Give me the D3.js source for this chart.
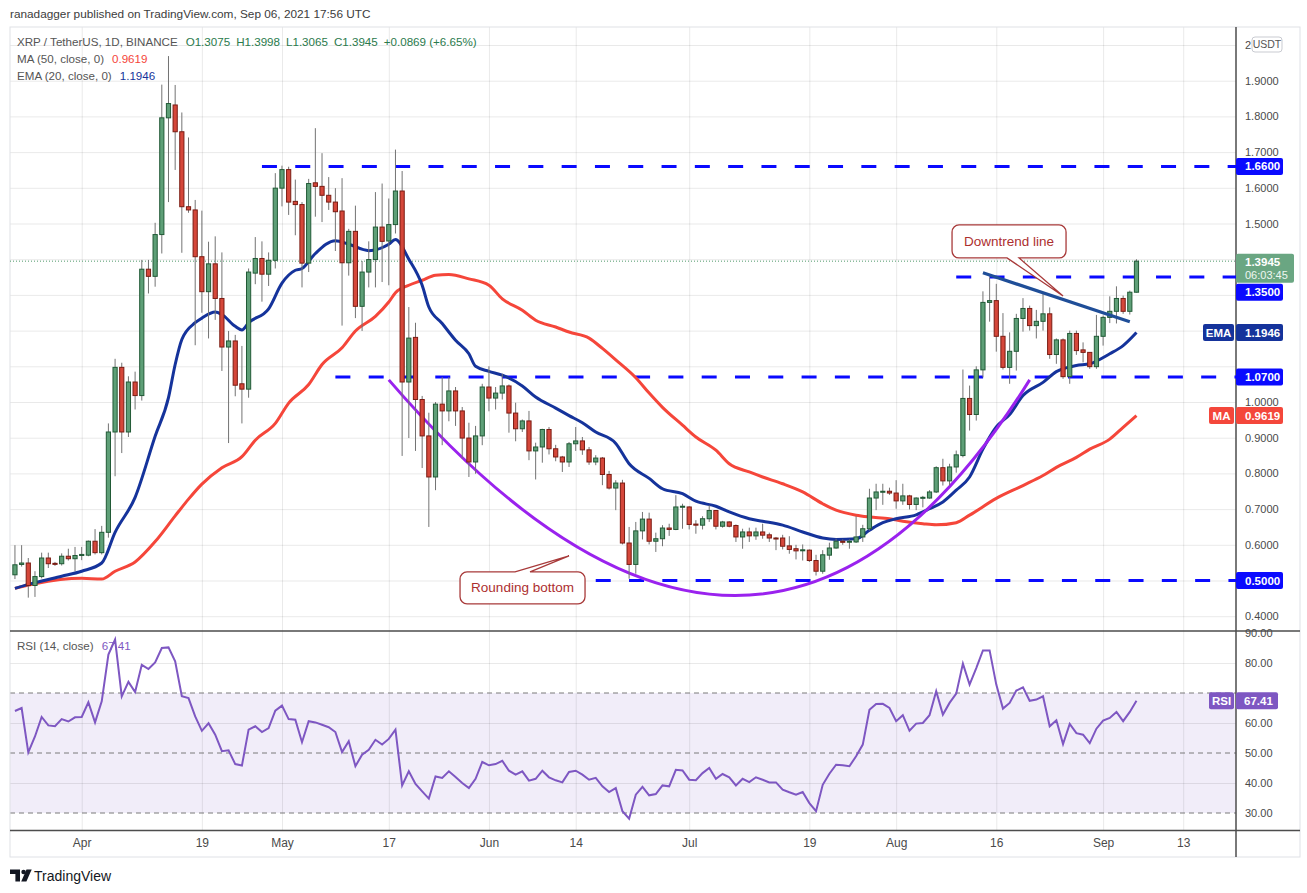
<!DOCTYPE html>
<html>
<head>
<meta charset="utf-8">
<script src="https://cdn.jsdelivr.net/npm/d3@7"></script>
<style>
  body { margin: 0; background: #fff; }
  svg { display: block; font-family: "Liberation Sans", Arial, sans-serif; }
</style>
</head>
<body>
<svg id="chart" width="1307" height="893"></svg>
<script>
// XRP/USDT daily, Mar 22 – Sep 6 2021.

const FIRST_DAY = "2021-03-22";

const opens = [
  0.516, 0.545, 0.549, 0.486, 0.511, 0.563, 0.548, 0.547, 0.568, 0.561,
  0.570, 0.571, 0.610, 0.578, 0.635, 0.916, 1.097, 0.916, 1.056, 1.018,
  1.372, 1.352, 1.469, 1.796, 1.832, 1.757, 1.547, 1.538, 1.407, 1.309,
  1.387, 1.290, 1.154, 1.171, 1.051, 1.036, 1.361, 1.402, 1.358, 1.397,
  1.599, 1.651, 1.562, 1.553, 1.389, 1.614, 1.604, 1.579, 1.560, 1.535,
  1.390, 1.478, 1.268, 1.364, 1.399, 1.490, 1.451, 1.497, 1.591, 1.056,
  1.181, 1.007, 0.905, 0.790, 0.994, 0.975, 1.031, 0.975, 0.899, 0.832,
  0.905, 1.042, 1.011, 1.025, 1.045, 0.969, 0.925, 0.947, 0.863, 0.874,
  0.923, 0.869, 0.846, 0.832, 0.883, 0.891, 0.866, 0.832, 0.843, 0.797,
  0.759, 0.773, 0.605, 0.545, 0.639, 0.672, 0.610, 0.617, 0.647, 0.643,
  0.706, 0.706, 0.658, 0.655, 0.673, 0.696, 0.652, 0.664, 0.654, 0.622,
  0.636, 0.625, 0.636, 0.628, 0.619, 0.619, 0.597, 0.589, 0.584, 0.585,
  0.556, 0.526, 0.571, 0.591, 0.610, 0.608, 0.608, 0.622, 0.645, 0.731,
  0.748, 0.750, 0.745, 0.723, 0.737, 0.713, 0.731, 0.731, 0.748, 0.816,
  0.779, 0.818, 0.850, 1.010, 0.965, 1.090, 1.279, 1.284, 1.184, 1.097,
  1.142, 1.234, 1.262, 1.214, 1.226, 1.247, 1.133, 1.174, 1.071, 1.192,
  1.146, 1.139, 1.099, 1.184, 1.237, 1.254, 1.290, 1.254, 1.3075,
];
const highs = [
  0.599, 0.599, 0.563, 0.526, 0.578, 0.578, 0.552, 0.576, 0.589, 0.594,
  0.594, 0.612, 0.644, 0.653, 0.940, 1.121, 1.110, 1.072, 1.085, 1.398,
  1.398, 1.502, 1.889, 1.969, 1.888, 1.811, 1.741, 1.566, 1.536, 1.449,
  1.464, 1.419, 1.199, 1.188, 1.157, 1.374, 1.462, 1.450, 1.419, 1.641,
  1.662, 1.659, 1.623, 1.560, 1.625, 1.767, 1.697, 1.630, 1.599, 1.627,
  1.485, 1.550, 1.395, 1.450, 1.588, 1.612, 1.570, 1.707, 1.647, 1.266,
  1.222, 1.017, 0.970, 1.000, 1.070, 1.070, 1.042, 0.986, 0.942, 0.933,
  1.051, 1.100, 1.042, 1.079, 1.049, 0.998, 0.951, 0.975, 0.886, 0.925,
  0.930, 0.880, 0.849, 0.888, 0.930, 0.902, 0.874, 0.851, 0.846, 0.807,
  0.781, 0.782, 0.650, 0.664, 0.692, 0.690, 0.634, 0.655, 0.659, 0.739,
  0.715, 0.708, 0.669, 0.680, 0.711, 0.697, 0.667, 0.666, 0.657, 0.645,
  0.648, 0.648, 0.659, 0.634, 0.622, 0.628, 0.624, 0.600, 0.601, 0.587,
  0.572, 0.585, 0.606, 0.617, 0.615, 0.615, 0.680, 0.656, 0.757, 0.771,
  0.771, 0.760, 0.781, 0.771, 0.740, 0.733, 0.737, 0.753, 0.820, 0.841,
  0.827, 0.864, 1.091, 1.046, 1.100, 1.310, 1.349, 1.331, 1.249, 1.195,
  1.247, 1.291, 1.270, 1.258, 1.303, 1.265, 1.178, 1.178, 1.200, 1.200,
  1.167, 1.139, 1.244, 1.242, 1.296, 1.324, 1.298, 1.312, 1.3998,
];
const lows = [
  0.504, 0.539, 0.452, 0.454, 0.506, 0.535, 0.541, 0.542, 0.556, 0.526,
  0.557, 0.568, 0.573, 0.573, 0.620, 0.792, 0.857, 0.902, 0.979, 1.004,
  1.304, 1.323, 1.416, 1.560, 1.650, 1.418, 1.530, 1.159, 1.250, 1.178,
  1.230, 1.087, 0.885, 1.016, 0.940, 1.012, 1.330, 1.281, 1.325, 1.374,
  1.548, 1.524, 1.467, 1.321, 1.364, 1.519, 1.504, 1.538, 1.423, 1.214,
  1.354, 1.235, 1.199, 1.321, 1.321, 1.336, 1.327, 1.472, 0.849, 0.899,
  0.863, 0.815, 0.650, 0.753, 0.879, 0.946, 0.933, 0.841, 0.790, 0.799,
  0.879, 0.974, 0.979, 1.007, 0.914, 0.890, 0.916, 0.837, 0.783, 0.830,
  0.853, 0.834, 0.804, 0.818, 0.863, 0.852, 0.824, 0.823, 0.767, 0.755,
  0.697, 0.601, 0.505, 0.519, 0.615, 0.601, 0.580, 0.596, 0.625, 0.641,
  0.645, 0.643, 0.631, 0.643, 0.664, 0.643, 0.648, 0.649, 0.608, 0.589,
  0.608, 0.614, 0.617, 0.608, 0.585, 0.587, 0.575, 0.559, 0.556, 0.552,
  0.514, 0.519, 0.558, 0.589, 0.600, 0.589, 0.605, 0.608, 0.640, 0.697,
  0.712, 0.740, 0.701, 0.712, 0.699, 0.697, 0.705, 0.729, 0.745, 0.766,
  0.766, 0.802, 0.845, 0.920, 0.948, 1.069, 1.225, 1.141, 1.091, 1.051,
  1.088, 1.197, 1.200, 1.178, 1.200, 1.121, 1.107, 1.065, 1.051, 1.132,
  1.111, 1.093, 1.093, 1.158, 1.221, 1.220, 1.247, 1.245, 1.3065,
];
const closes = [
  0.544, 0.549, 0.486, 0.511, 0.563, 0.547, 0.546, 0.568, 0.561, 0.570,
  0.573, 0.610, 0.578, 0.635, 0.916, 1.097, 0.916, 1.056, 1.018, 1.372,
  1.352, 1.469, 1.796, 1.836, 1.757, 1.547, 1.538, 1.407, 1.309, 1.387,
  1.290, 1.154, 1.171, 1.047, 1.036, 1.364, 1.402, 1.358, 1.397, 1.599,
  1.651, 1.560, 1.553, 1.389, 1.612, 1.604, 1.579, 1.560, 1.533, 1.390,
  1.478, 1.268, 1.364, 1.399, 1.490, 1.450, 1.497, 1.591, 1.056, 1.179,
  1.007, 0.905, 0.790, 0.994, 0.975, 1.031, 0.975, 0.899, 0.832, 0.905,
  1.042, 1.011, 1.025, 1.045, 0.969, 0.925, 0.947, 0.863, 0.874, 0.923,
  0.869, 0.846, 0.832, 0.883, 0.891, 0.866, 0.832, 0.843, 0.797, 0.759,
  0.773, 0.605, 0.545, 0.639, 0.672, 0.610, 0.617, 0.647, 0.643, 0.706,
  0.708, 0.657, 0.655, 0.673, 0.696, 0.652, 0.664, 0.652, 0.622, 0.636,
  0.625, 0.636, 0.627, 0.619, 0.618, 0.596, 0.587, 0.583, 0.586, 0.556,
  0.526, 0.572, 0.591, 0.610, 0.607, 0.610, 0.622, 0.645, 0.731, 0.748,
  0.750, 0.745, 0.723, 0.737, 0.713, 0.731, 0.733, 0.748, 0.816, 0.779,
  0.818, 0.852, 1.010, 0.965, 1.090, 1.279, 1.284, 1.184, 1.097, 1.142,
  1.234, 1.262, 1.214, 1.226, 1.247, 1.133, 1.174, 1.071, 1.192, 1.144,
  1.139, 1.099, 1.184, 1.237, 1.254, 1.290, 1.254, 1.3075, 1.3945,
];

// RSI(14), one reading per candle
const rsiValues = [
  64, 65, 50.2, 55.5, 62, 59.2, 58.9, 61.3, 60.5, 61.9,
  62, 66.9, 60.2, 67.2, 82.8, 87.8, 68.9, 73.7, 70.3, 79.4,
  78, 80.2, 85, 85.2, 80.6, 68.9, 68.3, 62.2, 57.4, 59.9,
  56.1, 50.6, 50.9, 46.3, 45.8, 57.8, 58.9, 57, 58.3, 64.1,
  65.8, 61.3, 61.1, 53.6, 60.6, 60.2, 59.4, 58.6, 57, 50.3,
  53.9, 45.6, 49.4, 51.1, 54.4, 52.8, 54.7, 57.8, 39.2, 43.9,
  39.7, 37.2, 34.8, 42.2, 41.7, 43.9, 42, 40, 38.3, 41.4,
  47, 45.9, 46.3, 47.4, 44.1, 42.8, 43.9, 40.8, 41.4, 44.1,
  41.9, 40.9, 40.2, 43.7, 44.1, 42.8, 41.1, 41.7, 38.9, 37,
  38.3, 30.6, 28.1, 36.1, 38.7, 35.9, 36.3, 39.2, 38.9, 44.4,
  44.2, 41.1, 40.9, 43.3, 45, 41.4, 43, 41.9, 39.2, 41.4,
  40.3, 41.9, 41.1, 40.2, 40.2, 37.8, 36.9, 36.1, 37, 33.3,
  30.6, 39.4, 43.1, 46.1, 45.9, 45.6, 48.9, 52.8, 64.4, 66.3,
  66.4, 65, 60.6, 62.6, 57.4, 59.8, 60, 62.6, 70.6, 62.8,
  66.7, 69.8, 79.8, 72.8, 78.3, 84.2, 84.2, 72.8, 64.8, 66.7,
  70.8, 71.9, 67.4, 67.8, 68.9, 58.9, 60.9, 53, 59.7, 56.6,
  56.1, 53.3, 58.1, 60.8, 61.7, 63.7, 60.6, 63.7, 67.41,
];

// EMA(20) and MA(50) read at sample candles (1 = first candle)
const emaCandles = [
  1, 4, 8, 11, 14, 16, 19, 22, 24, 25, 26, 28, 29, 31, 32, 34, 35, 36, 39, 41,
  43, 44, 46, 49, 51, 54, 57, 58, 60, 62, 63, 65, 67, 69, 70, 72, 74, 77, 79, 82,
  84, 86, 88, 91, 93, 96, 98, 101, 103, 106, 108, 111, 113, 116, 119, 122, 124, 127, 129, 131,
  133, 136, 138, 140, 142, 144, 146, 148, 150, 152, 155, 157, 160, 162, 165, 167, 169,
];
const emaValues = [
  0.478, 0.494, 0.512, 0.526, 0.549, 0.635, 0.733, 0.904, 1.012, 1.105, 1.175, 1.222, 1.235, 1.252, 1.245, 1.212, 1.202, 1.222, 1.261, 1.333,
  1.369, 1.374, 1.416, 1.452, 1.442, 1.424, 1.442, 1.455, 1.400, 1.327, 1.266, 1.220, 1.173, 1.135, 1.100, 1.086, 1.075, 1.045, 1.014, 0.983,
  0.962, 0.942, 0.916, 0.884, 0.827, 0.786, 0.757, 0.743, 0.722, 0.708, 0.692, 0.673, 0.666, 0.655, 0.636, 0.619, 0.615, 0.617, 0.641, 0.662,
  0.673, 0.684, 0.701, 0.720, 0.753, 0.790, 0.868, 0.930, 0.965, 1.018, 1.055, 1.085, 1.102, 1.107, 1.135, 1.158, 1.1946,
];
const maCandles = [
  1, 4, 11, 14, 16, 19, 22, 25, 27, 29, 32, 35, 37, 40, 42, 45, 47, 50, 52, 55,
  57, 58, 60, 62, 64, 66, 69, 72, 74, 77, 79, 82, 84, 87, 89, 91, 94, 96, 98, 101,
  103, 106, 108, 111, 113, 116, 119, 122, 124, 127, 129, 132, 134, 137, 139, 142, 144, 148, 152, 155,
  157, 160, 162, 165, 167, 169,
];
const maValues = [
  0.478, 0.491, 0.506, 0.504, 0.526, 0.552, 0.609, 0.681, 0.728, 0.770, 0.816, 0.847, 0.893, 0.940, 0.997, 1.049, 1.105, 1.152, 1.199, 1.240,
  1.280, 1.306, 1.327, 1.341, 1.355, 1.357, 1.345, 1.327, 1.289, 1.257, 1.229, 1.210, 1.196, 1.179, 1.150, 1.118, 1.068, 1.025, 0.985, 0.935,
  0.902, 0.865, 0.827, 0.804, 0.790, 0.771, 0.748, 0.715, 0.697, 0.683, 0.678, 0.673, 0.666, 0.659, 0.656, 0.662, 0.683, 0.730, 0.766, 0.794,
  0.817, 0.845, 0.868, 0.896, 0.929, 0.9619,
];

// drawn horizontal levels (price, first day)
const levelPrices = [1.66, 1.35, 1.07, 0.5];
const levelStarts = ["2021-04-28", "2021-08-10", "2021-05-09", "2021-06-17"];

const dateTicks = [
  "2021-04-01", "2021-04-19", "2021-05-01", "2021-05-17", "2021-06-01", "2021-06-14",
  "2021-07-01", "2021-07-19", "2021-08-01", "2021-08-16", "2021-09-01", "2021-09-13",
];
const priceTicks = [0.4, 0.5, 0.6, 0.7, 0.8, 0.9, 1.0, 1.1, 1.2, 1.3, 1.4, 1.5, 1.6, 1.7, 1.8, 1.9, 2.0];
const rsiTicks = [30, 40, 50, 60, 70, 80, 90];

const LAST = { price: 1.3945, countdown: "06:03:45", ema: 1.1946, ma: 0.9619, rsi: 67.41 };

// ─── layout ──────────────────────────────────────────────────────────
const P = { left: 10, right: 1236, top: 27, split: 631, bottom: 830.5, frameRight: 1300, frameBottom: 857 };
const C = {
  up: "#5e9f77", upLine: "#215a36", down: "#d5473a", downLine: "#7a1c13", wick: "#737373",
  text: "#4a4a4a", level: "#0a0aff", ema: "#15339b", ma: "#f5463a",
  arc: "#9a22ee", trend: "#1f4e98", rsi: "#7e57c2", note: "#a83a3a",
};

const parseDay = d3.timeParse("%Y-%m-%d");
const firstDay = parseDay(FIRST_DAY);
const dayOf = (n) => d3.timeDay.offset(firstDay, n - 1);

const candles = closes.map((c, i) => ({
  date: dayOf(i + 1), o: opens[i], h: highs[i], l: lows[i], c,
}));

const x = d3.scaleTime()
  .domain([parseDay("2021-04-01"), parseDay("2021-09-01")])
  .range([81.7, 1103.1]);
const y = d3.scaleLinear().domain([1, 2]).range([402, 45]);
const yRsi = d3.scaleLinear().domain([30, 90]).range([813, 633]);

const svg = d3.select("#chart");
const defs = svg.append("defs");
defs.append("clipPath").attr("id", "clip-main").append("rect")
  .attr("x", P.left).attr("y", P.top).attr("width", P.right - P.left).attr("height", P.split - P.top);
defs.append("clipPath").attr("id", "clip-rsi").append("rect")
  .attr("x", P.left).attr("y", P.split).attr("width", P.right - P.left).attr("height", P.bottom - P.split);

// ─── price tags (positions first, so covered scale labels can be hidden) ─
const tagsData = [
  { v: 1.66, fill: C.level, w: 47 },
  { v: LAST.price, fill: "#6aa682", w: 58, sub: LAST.countdown, h: 29, lift: 7.5 },
  { v: 1.35, fill: C.level, w: 47 },
  { v: LAST.ema, fill: C.ema, w: 47, name: "EMA", nw: 31 },
  { v: 1.07, fill: C.level, w: 47 },
  { v: LAST.ma, fill: "#f4473b", w: 47, name: "MA", nw: 25 },
  { v: 0.5, fill: C.level, w: 47 },
];
let lastBottom = -Infinity;
tagsData.forEach((t) => {
  const h = t.h || 17;
  let top = y(t.v) - (t.lift || 8.5);
  if (top < lastBottom + 1) top = lastBottom + 1;
  t.top = top; t.hh = h;
  lastBottom = top + h;
});
const rsiTagTop = yRsi(LAST.rsi) - 8.5;
const coveredBy = (boxes) => (py) => boxes.some((b) => py > b[0] - 5 && py < b[1] + 2);
const priceCovered = coveredBy(tagsData.map((t) => [t.top, t.top + t.hh]));
const rsiCovered = coveredBy([[rsiTagTop, rsiTagTop + 17]]);

// ─── header ──────────────────────────────────────────────────────────
svg.append("text")
  .attr("x", 10).attr("y", 18)
  .attr("font-size", 11.8).attr("fill", "#3c3c3c")
  .text("ranadagger published on TradingView.com, Sep 06, 2021 17:56 UTC");

// RSI band under the grid
svg.append("rect")
  .attr("x", P.left).attr("width", P.right - P.left)
  .attr("y", yRsi(70)).attr("height", yRsi(30) - yRsi(70))
  .attr("fill", "#f1edf9");

// ─── grids and axes ──────────────────────────────────────────────────
const styleAxis = (g) => {
  g.select(".domain").remove();
  g.selectAll(".tick line").attr("stroke", "#000").attr("stroke-opacity", 0.085);
  g.selectAll(".tick text").attr("fill", C.text).attr("font-family", "Liberation Sans, Arial, sans-serif");
};

svg.append("g")
  .attr("transform", `translate(0,${P.bottom})`)
  .call(d3.axisBottom(x)
    .tickValues(dateTicks.map(parseDay))
    .tickSize(-(P.bottom - P.top))
    .tickPadding(8)
    .tickFormat((d) => (d.getDate() === 1 ? d3.timeFormat("%b")(d) : d.getDate())))
  .call(styleAxis)
  .call((g) => g.selectAll(".tick text").attr("font-size", 12));

svg.append("g")
  .attr("transform", `translate(${P.right},0)`)
  .call(d3.axisRight(y)
    .tickValues(priceTicks)
    .tickSize(-(P.right - P.left))
    .tickPadding(9)
    .tickFormat((d) => (d === 2 ? "2" : d.toFixed(4))))
  .call(styleAxis)
  .call((g) => g.selectAll(".tick text").attr("font-size", 11))
  .call((g) => g.selectAll(".tick text").filter((d) => priceCovered(y(d))).remove());

svg.append("g")
  .attr("transform", `translate(${P.right},0)`)
  .call(d3.axisRight(yRsi)
    .tickValues(rsiTicks)
    .tickSize(-(P.right - P.left))
    .tickPadding(9)
    .tickFormat((d) => d.toFixed(2)))
  .call(styleAxis)
  .call((g) => g.selectAll(".tick text").attr("font-size", 11))
  .call((g) => g.selectAll(".tick text").filter((d) => rsiCovered(yRsi(d))).remove())
  .call((g) => g.selectAll(".tick line").filter((d) => d % 20 === 10).remove());

// RSI dashed band borders
svg.append("g").selectAll("line")
  .data([70, 50, 30])
  .join("line")
  .attr("x1", P.left).attr("x2", P.right)
  .attr("y1", (d) => yRsi(d)).attr("y2", (d) => yRsi(d))
  .attr("stroke", "#7a7a7a").attr("stroke-width", 1).attr("stroke-dasharray", "5 4");

// ─── frame ───────────────────────────────────────────────────────────
svg.append("rect")
  .attr("x", P.left).attr("y", P.top)
  .attr("width", P.frameRight - P.left).attr("height", P.frameBottom - P.top)
  .attr("fill", "none").attr("stroke", "#dfe1e6");
svg.append("g").selectAll("line")
  .data([P.split, P.bottom])
  .join("line")
  .attr("x1", P.left).attr("x2", P.frameRight)
  .attr("y1", (d) => d).attr("y2", (d) => d)
  .attr("stroke", "#4d4d4d").attr("stroke-width", 1.5);
svg.append("line")
  .attr("x1", P.right).attr("x2", P.right)
  .attr("y1", P.top).attr("y2", P.frameBottom)
  .attr("stroke", "#4d4d4d").attr("stroke-width", 1.5);

// ─── main pane content ───────────────────────────────────────────────
const main = svg.append("g").attr("clip-path", "url(#clip-main)");

// last price dotted line
main.append("line")
  .attr("x1", P.left).attr("x2", P.right)
  .attr("y1", y(LAST.price)).attr("y2", y(LAST.price))
  .attr("stroke", "#4f9a6b").attr("stroke-width", 1).attr("stroke-dasharray", "1 2");

// horizontal support / resistance levels
main.append("g").selectAll("line")
  .data(levelPrices.map((p, i) => ({ p, from: parseDay(levelStarts[i]) })))
  .join("line")
  .attr("x1", (d) => x(d.from)).attr("x2", P.right)
  .attr("y1", (d) => y(d.p)).attr("y2", (d) => y(d.p))
  .attr("stroke", C.level).attr("stroke-width", 3).attr("stroke-dasharray", "15 18.3");

// moving averages
const avgLine = d3.line()
  .x((d) => x(d.date)).y((d) => y(d.v))
  .curve(d3.curveMonotoneX);
main.append("path")
  .datum(maCandles.map((n, i) => ({ date: dayOf(n), v: maValues[i] })))
  .attr("d", avgLine)
  .attr("fill", "none").attr("stroke", C.ma).attr("stroke-width", 3);
main.append("path")
  .datum(emaCandles.map((n, i) => ({ date: dayOf(n), v: emaValues[i] })))
  .attr("d", avgLine)
  .attr("fill", "none").attr("stroke", C.ema).attr("stroke-width", 3);

// rounding-bottom arc: quadratic curve between two dated anchors
const arcFrom = { date: parseDay("2021-05-17"), p: 1.062 };
const arcCtrl = { date: d3.timeHour.offset(parseDay("2021-07-11"), 18), p: -0.146 };
const arcTo = { date: parseDay("2021-08-21"), p: 1.062 };
const arcPath = d3.path();
arcPath.moveTo(x(arcFrom.date), y(arcFrom.p));
arcPath.quadraticCurveTo(x(arcCtrl.date), y(arcCtrl.p), x(arcTo.date), y(arcTo.p));
main.append("path")
  .attr("d", arcPath.toString())
  .attr("fill", "none").attr("stroke", C.arc).attr("stroke-width", 3);

// candles
const candleG = main.append("g").selectAll("g.candle")
  .data(candles)
  .join("g")
  .attr("class", "candle")
  .attr("transform", (d) => `translate(${x(d.date)},0)`);
candleG.append("line")
  .attr("y1", (d) => y(d.h)).attr("y2", (d) => y(d.l))
  .attr("stroke", C.wick).attr("stroke-width", 1);
candleG.append("rect")
  .attr("x", -2.1).attr("width", 4.2)
  .attr("y", (d) => y(Math.max(d.o, d.c)))
  .attr("height", (d) => Math.max(1, Math.abs(y(d.o) - y(d.c))))
  .attr("fill", (d) => (d.c >= d.o ? C.up : C.down))
  .attr("stroke", (d) => (d.c >= d.o ? C.upLine : C.downLine))
  .attr("stroke-width", 1);

// downtrend line
const trendFrom = { date: parseDay("2021-08-14"), p: 1.362 };
const trendTo = { date: parseDay("2021-09-05"), p: 1.225 };
main.append("line")
  .attr("x1", x(trendFrom.date)).attr("y1", y(trendFrom.p))
  .attr("x2", x(trendTo.date)).attr("y2", y(trendTo.p))
  .attr("stroke", C.trend).attr("stroke-width", 3.2);

// callouts: box offsets are relative to the tip, which sits on the chart
function calloutPath(tx, ty, box, base, side) {
  const l = tx + box[0], t = ty + box[1], r = tx + box[2], b = ty + box[3];
  const k = 7;
  const b1 = tx + base[0], b2 = tx + base[1];
  const p = d3.path();
  p.moveTo(l + k, t);
  if (side === "top") { p.lineTo(b1, t); p.lineTo(tx, ty); p.lineTo(b2, t); }
  p.lineTo(r - k, t);
  p.arcTo(r, t, r, t + k, k);
  p.lineTo(r, b - k);
  p.arcTo(r, b, r - k, b, k);
  if (side === "bottom") { p.lineTo(b2, b); p.lineTo(tx, ty); p.lineTo(b1, b); }
  p.lineTo(l + k, b);
  p.arcTo(l, b, l, b - k, k);
  p.lineTo(l, t + k);
  p.arcTo(l, t, l + k, t, k);
  p.closePath();
  return { d: p.toString(), cx: (l + r) / 2, cy: (t + b) / 2 };
}
const notes = [
  { text: "Downtrend line", date: parseDay("2021-08-26"), p: 1.297, box: [-111, -71, 3, -38], base: [-56, -44], side: "bottom" },
  { text: "Rounding bottom", date: parseDay("2021-06-13"), p: 0.569, box: [-109, 16, 16, 48], base: [-54, -39], side: "top" },
];
const noteG = svg.append("g").selectAll("g.note")
  .data(notes.map((n) => ({ ...n, ...calloutPath(x(n.date), y(n.p), n.box, n.base, n.side) })))
  .join("g")
  .attr("class", "note");
noteG.append("path")
  .attr("d", (d) => d.d)
  .attr("fill", "#fff").attr("stroke", C.note).attr("stroke-width", 1.3);
noteG.append("text")
  .attr("x", (d) => d.cx).attr("y", (d) => d.cy + 4.5)
  .attr("text-anchor", "middle").attr("font-size", 13.5).attr("fill", "#ad2f2f")
  .text((d) => d.text);

// ─── RSI pane ────────────────────────────────────────────────────────
svg.append("g").attr("clip-path", "url(#clip-rsi)")
  .append("path")
  .datum(candles.map((d, i) => ({ date: d.date, v: rsiValues[i] })))
  .attr("d", d3.line().x((d) => x(d.date)).y((d) => yRsi(d.v)))
  .attr("fill", "none").attr("stroke", C.rsi).attr("stroke-width", 2);

// ─── legends (each part placed after the previous one) ───────────────
const legendRows = [
  { y: 46, parts: [["XRP / TetherUS, 1D, BINANCE", "#555"], ["O1.3075", "#2a7a4c"], ["H1.3998", "#2a7a4c"], ["L1.3065", "#2a7a4c"], ["C1.3945", "#2a7a4c"], ["+0.0869 (+6.65%)", "#2a7a4c"]] },
  { y: 63, parts: [["MA (50, close, 0)", "#555"], [LAST.ma.toFixed(4), C.ma]] },
  { y: 80, parts: [["EMA (20, close, 0)", "#555"], [LAST.ema.toFixed(4), C.ema]] },
  { y: 650, parts: [["RSI (14, close)", "#555"], [LAST.rsi.toFixed(2), C.rsi]] },
];
const legend = svg.append("g").attr("font-size", 11.6);
legendRows.forEach((row) => {
  let cursor = 17;
  row.parts.forEach(([label, color], i) => {
    const t = legend.append("text")
      .attr("x", cursor).attr("y", row.y)
      .attr("fill", color)
      .text(label);
    cursor += t.node().getComputedTextLength() + (i === 0 ? 8 : 6);
  });
});

// ─── price tags on the right scale ───────────────────────────────────
const tagG = svg.append("g").selectAll("g.tag")
  .data(tagsData)
  .join("g")
  .attr("class", "tag")
  .attr("transform", (d) => `translate(${P.right},${d.top})`);
tagG.append("rect")
  .attr("x", 0).attr("width", (d) => d.w).attr("height", (d) => d.hh)
  .attr("rx", 2).attr("fill", (d) => d.fill);
tagG.append("text")
  .attr("x", 9).attr("y", 12.5)
  .attr("font-size", 11.5).attr("font-weight", 700).attr("fill", "#fff")
  .text((d) => d.v.toFixed(4));
tagG.filter((d) => d.sub).append("text")
  .attr("x", 9).attr("y", 25.5)
  .attr("font-size", 11).attr("fill", "#eef6f0")
  .text((d) => d.sub);
const named = tagG.filter((d) => d.name);
named.append("rect")
  .attr("x", (d) => -2 - d.nw).attr("width", (d) => d.nw).attr("height", 17)
  .attr("rx", 2).attr("fill", (d) => d.fill);
named.append("text")
  .attr("x", (d) => -2 - d.nw / 2).attr("y", 12.5)
  .attr("text-anchor", "middle")
  .attr("font-size", 11.5).attr("font-weight", 700).attr("fill", "#fff")
  .text((d) => d.name);

// RSI tag
const rsiTag = svg.append("g").attr("transform", `translate(${P.right},${rsiTagTop})`);
rsiTag.append("rect").attr("x", 0).attr("width", 42).attr("height", 17).attr("rx", 2).attr("fill", C.rsi);
rsiTag.append("text").attr("x", 8).attr("y", 12.5).attr("font-size", 11.5).attr("font-weight", 700).attr("fill", "#fff")
  .text(LAST.rsi.toFixed(2));
rsiTag.append("rect").attr("x", -27).attr("width", 25).attr("height", 17).attr("rx", 2).attr("fill", C.rsi);
rsiTag.append("text").attr("x", -14.5).attr("y", 12.5).attr("text-anchor", "middle")
  .attr("font-size", 11.5).attr("font-weight", 700).attr("fill", "#fff").text("RSI");

// currency badge at the top of the price scale
const badge = svg.append("g").attr("transform", `translate(1252,${y(2) - 8})`);
badge.append("rect").attr("width", 30).attr("height", 15).attr("rx", 3)
  .attr("fill", "#fff").attr("stroke", "#c9cbd1");
badge.append("text").attr("x", 15).attr("y", 11).attr("text-anchor", "middle")
  .attr("font-size", 10.5).attr("fill", "#555").text("USDT");

// ─── footer logo ─────────────────────────────────────────────────────
const logo = svg.append("g").attr("fill", "#131722");
logo.append("path").attr("d", "M10,869.5h10v12h-4.6v-7.6h-5.4z");
logo.append("circle").attr("cx", 23.6).attr("cy", 872).attr("r", 2.3);
logo.append("path").attr("d", "M26.5,869.5h5.2l-5.3,12h-5.2z");
logo.append("text").attr("x", 34).attr("y", 881)
  .attr("font-size", 14).attr("fill", "#131722").text("TradingView");
</script>
</body>
</html>
